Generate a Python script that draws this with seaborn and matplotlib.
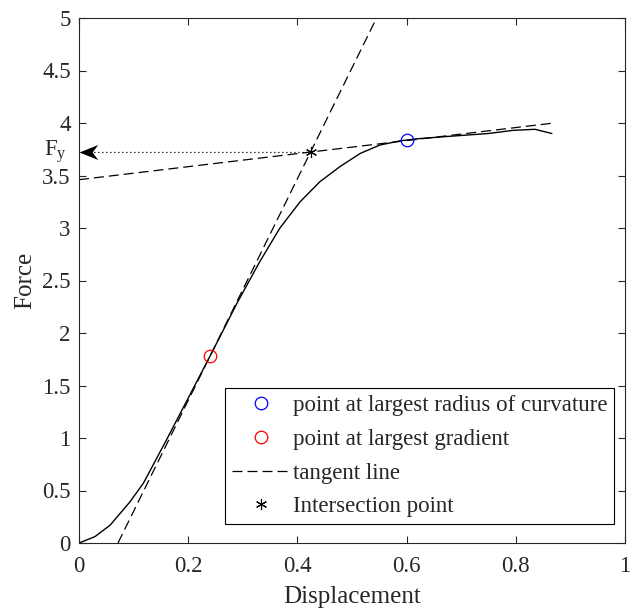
import numpy as np
import pandas as pd
import matplotlib
matplotlib.use("Agg")
import matplotlib.pyplot as plt
from matplotlib.path import Path
from matplotlib.lines import Line2D
from matplotlib.ticker import FixedLocator, FuncFormatter
import seaborn as sns

# ---- data ----
displacement = [0, 0.029, 0.057, 0.093, 0.118, 0.16, 0.2, 0.24, 0.29, 0.33,
                0.368, 0.405, 0.441, 0.478, 0.515, 0.551, 0.588, 0.62, 0.67,
                0.75, 0.795, 0.835, 0.866]
force = [0, 0.06, 0.17, 0.39, 0.57, 0.98, 1.38, 1.78, 2.29, 2.67,
         3.0, 3.25, 3.44, 3.585, 3.71, 3.79, 3.83, 3.85, 3.87,
         3.90, 3.93, 3.94, 3.90]

curv_pt = (0.6, 3.84)        # largest radius of curvature
grad_pt = (0.24, 1.78)       # largest gradient
tangent1_x = [0.0714, 0.545]
tangent1_y = [0.0, 5.0]
tangent2_x = [0.0, 0.87]
tangent2_y = [3.46, 4.0]
intersect = (0.424, 3.72)

x_ticks = [0, 0.2, 0.4, 0.6, 0.8, 1]
y_ticks = [0, 0.5, 1, 1.5, 2, 2.5, 3, 3.5, 4, 4.5, 5]

legend_labels = ["point at largest radius of curvature",
                 "point at largest gradient",
                 "tangent line",
                 "Intersection point"]

# ---- style ----
sns.set_theme(style="ticks")
plt.rcParams['font.family'] = ['Liberation Serif', 'DejaVu Serif']
plt.rcParams['mathtext.fontset'] = 'custom'
plt.rcParams['mathtext.rm'] = 'Liberation Serif'

fig = plt.figure(figsize=(6.35, 6.1), dpi=100)
ax = fig.add_axes([79/635, 1 - 543/610, 546/635, 525/610])

df = pd.DataFrame({"Displacement": displacement, "Force": force})
sns.lineplot(data=df, x="Displacement", y="Force", ax=ax, color="black",
             lw=1.0, sort=False, estimator=None)

dash = (8, 4)
ax.plot(tangent1_x, tangent1_y, color="black", lw=0.9, dashes=dash)
ax.plot(tangent2_x, tangent2_y, color="black", lw=0.9, dashes=dash)

# dotted arrow to F_y
ax.plot([intersect[0], 0], [intersect[1], intersect[1]], color="black",
        lw=0.9, linestyle=(0, (1, 2.2)))
head = Path([(0, 0), (1, 0.4), (0.7, 0), (1, -0.4), (0, 0)],
            [Path.MOVETO, Path.LINETO, Path.LINETO, Path.LINETO, Path.CLOSEPOLY])
ax.plot([0], [intersect[1]], marker=head, markersize=27, color="black",
        markeredgewidth=0, clip_on=False, zorder=5)

ax.plot([curv_pt[0]], [curv_pt[1]], marker="o", markersize=9, mfc="none",
        mec="blue", mew=0.9, ls="none")
ax.plot([grad_pt[0]], [grad_pt[1]], marker="o", markersize=9, mfc="none",
        mec="red", mew=0.9, ls="none")
ax.plot([intersect[0]], [intersect[1]], marker=(6, 2, 0), markersize=8,
        color="black", mew=0.8, ls="none", zorder=6)

ax.set_xlim(0, 1)
ax.set_ylim(0, 5)
ax.xaxis.set_major_locator(FixedLocator(x_ticks))
ax.yaxis.set_major_locator(FixedLocator(y_ticks))
fmt = FuncFormatter(lambda v, p: ("%g" % v))
ax.xaxis.set_major_formatter(fmt)
ax.yaxis.set_major_formatter(fmt)

gray = (0.15, 0.15, 0.15)
for s in ax.spines.values():
    s.set_visible(True)
    s.set_color(gray)
    s.set_linewidth(0.8)
ax.tick_params(direction="in", top=True, right=True, length=5, width=0.8,
               color=gray, labelcolor=gray, labelsize=16.5)
ax.tick_params(axis="x", pad=9)
ax.tick_params(axis="y", pad=6)
ax.set_xlabel("Displacement", fontsize=18, color=gray, labelpad=7)
ax.set_ylabel("Force", fontsize=18, color=gray, labelpad=4)

ax.text(-0.022, intersect[1], r"F$_\mathregular{y}$", transform=ax.get_yaxis_transform(),
        ha="right", va="center", fontsize=16.5, color=gray)

handles = [
    Line2D([], [], marker="o", mfc="none", mec="blue", mew=0.9, ms=9, ls="none"),
    Line2D([], [], marker="o", mfc="none", mec="red", mew=0.9, ms=9, ls="none"),
    Line2D([], [], color="black", lw=0.9, dashes=dash),
    Line2D([], [], marker=(6, 2, 0), color="black", ms=8, mew=0.8, ls="none"),
]
leg = ax.legend(handles, legend_labels, loc="lower right",
                bbox_to_anchor=(0.98, 0.036), borderaxespad=0, fontsize=16.5,
                frameon=True, fancybox=False, framealpha=1, edgecolor="black",
                handlelength=2.5, handletextpad=0.15, borderpad=0.3,
                labelspacing=0.55)
leg.get_frame().set_linewidth(0.8)

fig.savefig("out.png", dpi=100)
